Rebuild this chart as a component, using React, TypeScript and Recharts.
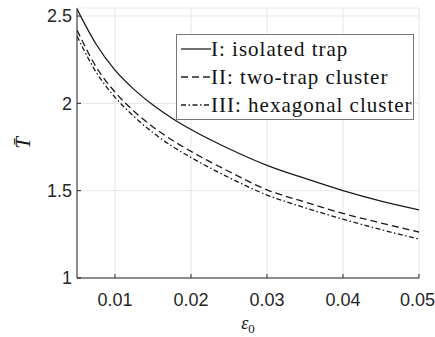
import React from "react"
import { LineChart, Line, XAxis, YAxis, CartesianGrid, Legend, Label } from "recharts"

// strain values along the x axis
const epsilon = [0.005, 0.0075, 0.01, 0.0125, 0.015, 0.0175, 0.02, 0.025, 0.03, 0.035, 0.04, 0.045, 0.05]

// mean time for each configuration
const isolatedTrap = [2.54, 2.34, 2.19, 2.08, 1.99, 1.915, 1.85, 1.74, 1.645, 1.57, 1.5, 1.44, 1.39]
const twoTrapCluster = [2.42, 2.21, 2.065, 1.955, 1.865, 1.79, 1.725, 1.61, 1.505, 1.435, 1.37, 1.315, 1.263]
const hexagonalCluster = [2.385, 2.18, 2.035, 1.925, 1.832, 1.755, 1.69, 1.575, 1.475, 1.402, 1.337, 1.277, 1.223]

const xTicks = [0.01, 0.02, 0.03, 0.04, 0.05]
const yTicks = [1, 1.5, 2, 2.5]

const seriesNames = ["I: isolated trap", "II: two-trap cluster", "III: hexagonal cluster"]
const seriesDash = ["", "7 4", "5 2.5 1.5 2.5"]

const data = epsilon.map((x, i) => ({
  x,
  iso: isolatedTrap[i],
  two: twoTrapCluster[i],
  hex: hexagonalCluster[i],
}))

const ink = "#262626"
const sansFont = "'Liberation Sans', Arimo, Arial, sans-serif"
const serifFont = "'Liberation Serif', Tinos, 'Times New Roman', serif"
const tickFont = { fill: ink, fontSize: 18, style: { fontFamily: sansFont } }

const LegendBox = () => (
  <div
    style={{
      background: "#fff",
      border: "1px solid #777",
      width: 236,
      fontFamily: serifFont,
      fontSize: 21,
      letterSpacing: 1,
      color: "#111",
    }}
  >
    {seriesNames.map((name, i) => (
      <div key={name} style={{ display: "flex", alignItems: "center", height: 28, paddingLeft: 4 }}>
        <svg width={30} height={10} style={{ flex: "none" }}>
          <line x1={0} y1={5} x2={30} y2={5} stroke="#222" strokeWidth={1.3} strokeDasharray={seriesDash[i] || undefined} />
        </svg>
        <span style={{ whiteSpace: "nowrap", fontFamily: serifFont }}>{name}</span>
      </div>
    ))}
  </div>
)

export default function App() {
  return (
    <div style={{ position: "absolute", left: 0, top: 0, background: "#fff" }}>
      <LineChart width={435} height={337} data={data} margin={{ top: 8, right: 16, left: 0, bottom: 0 }}>
        <CartesianGrid stroke="#e6e6e6" />
        <XAxis
          dataKey="x"
          type="number"
          domain={[0.005, 0.05]}
          ticks={xTicks}
          allowDataOverflow
          height={59}
          stroke={ink}
          tickSize={-4}
          tickMargin={19}
          tick={tickFont}
          tickFormatter={(v: number) => v.toFixed(2)}
        >
          <Label
            content={({ viewBox }: any) => (
              <text x={viewBox.x + viewBox.width / 2} y={329} textAnchor="middle" fill="#111" style={{ fontFamily: serifFont }}>
                <tspan fontStyle="italic" fontSize={18}>ε</tspan>
                <tspan fontSize={13} dy={4}>0</tspan>
              </text>
            )}
          />
        </XAxis>
        <XAxis
          xAxisId="top"
          orientation="top"
          dataKey="x"
          type="number"
          domain={[0.005, 0.05]}
          ticks={xTicks}
          allowDataOverflow
          height={0}
          stroke={ink}
          tickSize={-4}
          tick={false}
        />
        <YAxis
          type="number"
          domain={[1, 2.546]}
          ticks={yTicks}
          allowDataOverflow
          width={77}
          stroke={ink}
          tickSize={-4}
          tickMargin={9}
          tick={tickFont}
        >
          <Label
            content={({ viewBox }: any) => {
              const cy = viewBox.y + viewBox.height / 2
              return (
                <text
                  x={23}
                  y={cy}
                  transform={`rotate(-90 23 ${cy})`}
                  textAnchor="middle"
                  dominantBaseline="central"
                  fill="#111"
                  fontStyle="italic"
                  fontSize={21}
                  style={{ fontFamily: serifFont }}
                >
                  T̄
                </text>
              )
            }}
          />
        </YAxis>
        <YAxis
          yAxisId="right"
          orientation="right"
          type="number"
          domain={[1, 2.546]}
          ticks={yTicks}
          allowDataOverflow
          width={0}
          stroke={ink}
          tickSize={-4}
          tick={false}
        />
        <Legend
          layout="horizontal"
          verticalAlign="middle"
          align="center"
          content={() => <LegendBox />}
          wrapperStyle={{ top: 34, left: 176, width: "auto", height: "auto" }}
        />
        <Line dataKey="iso" name={seriesNames[0]} type="monotone" stroke="#1a1a1a" strokeWidth={1.3} dot={false} isAnimationActive={false} />
        <Line dataKey="two" name={seriesNames[1]} type="monotone" stroke="#1a1a1a" strokeWidth={1.3} strokeDasharray={seriesDash[1]} dot={false} isAnimationActive={false} />
        <Line dataKey="hex" name={seriesNames[2]} type="monotone" stroke="#1a1a1a" strokeWidth={1.3} strokeDasharray={seriesDash[2]} dot={false} isAnimationActive={false} />
      </LineChart>
    </div>
  )
}
